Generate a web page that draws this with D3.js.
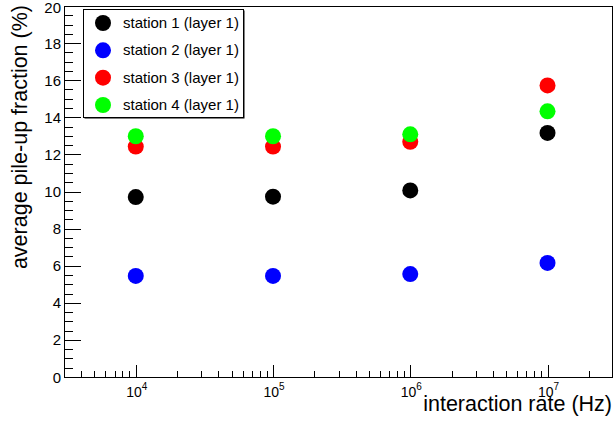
<!DOCTYPE html>
<html>
<head>
<meta charset="utf-8">
<script src="https://cdn.jsdelivr.net/npm/d3@7"></script>
<style>
  body { margin: 0; background: #fff; }
  text { font-family: "Liberation Sans", Arial, Helvetica, sans-serif; }
</style>
</head>
<body>
<div class="chart"></div>
<script>

// interaction rate (Hz)
var rates = [1e4, 1e5, 1e6, 1e7];

// average pile-up fraction (%) per station
var station1 = [9.70, 9.72, 10.06, 13.16];
var station2 = [5.45, 5.45, 5.55, 6.15];
var station3 = [12.42, 12.42, 12.68, 15.72];
var station4 = [12.98, 12.98, 13.08, 14.32];

var seriesNames = ["station 1 (layer 1)", "station 2 (layer 1)", "station 3 (layer 1)", "station 4 (layer 1)"];
var seriesColors = ["#000000", "#0000ff", "#ff0000", "#00ff00"];
var seriesValues = [station1, station2, station3, station4];

var yTicks = [0, 2, 4, 6, 8, 10, 12, 14, 16, 18, 20];
var xMajor = [1e4, 1e5, 1e6, 1e7];

var div_width = 614;
var div_height = 421;

var svg = d3.select(".chart").append("svg")
    .attr("width", div_width)
    .attr("height", div_height);

var x = d3.scaleLog().domain([3e3, 3e7]).range([64, 613]);
var y = d3.scaleLinear().domain([0, 20]).range([377, 6]);

// minor x ticks: 2..9 x 10^k inside the range
var xMinor = [];
for (var k = 3; k <= 7; k++) {
    for (var m = 2; m <= 9; m++) {
        var v = m * Math.pow(10, k);
        if (v > 3e3 && v < 3e7) xMinor.push(v);
    }
}
var yMinor = d3.range(0.5, 20, 0.5).filter(function (d) { return d % 2 != 0; });

var g = svg.append("g");

// frame
g.append("rect")
    .attr("x", x.range()[0] + 0.5)
    .attr("y", y.range()[1] + 0.5)
    .attr("width", x.range()[1] - x.range()[0] - 1)
    .attr("height", y.range()[0] - y.range()[1])
    .attr("fill", "none")
    .attr("stroke", "#000")
    .attr("stroke-width", 1);

// x ticks
g.selectAll(".xminor").data(xMinor).enter().append("line")
    .attr("x1", function (d) { return Math.round(x(d)) + 0.5; })
    .attr("x2", function (d) { return Math.round(x(d)) + 0.5; })
    .attr("y1", 377).attr("y2", 371)
    .attr("stroke", "#000");
g.selectAll(".xmajor").data(xMajor).enter().append("line")
    .attr("x1", function (d) { return Math.round(x(d)) + 0.5; })
    .attr("x2", function (d) { return Math.round(x(d)) + 0.5; })
    .attr("y1", 377).attr("y2", 365)
    .attr("stroke", "#000");

// x tick labels 10^n
var xl = g.selectAll(".xlab").data(xMajor).enter().append("text")
    .attr("x", function (d) { return x(d) + 1; })
    .attr("y", 397)
    .attr("text-anchor", "middle")
    .style("font-size", "14px")
    .attr("fill", "#000");
xl.append("tspan").text("10");
xl.append("tspan")
    .attr("dy", -7)
    .style("font-size", "10px")
    .text(function (d) { return Math.round(Math.log10(d)); });

// y ticks
g.selectAll(".yminor").data(yMinor).enter().append("line")
    .attr("x1", 64).attr("x2", 73)
    .attr("y1", function (d) { return Math.round(y(d)) + 0.5; })
    .attr("y2", function (d) { return Math.round(y(d)) + 0.5; })
    .attr("stroke", "#000");
g.selectAll(".ymajor").data(yTicks).enter().append("line")
    .attr("x1", 64).attr("x2", 81)
    .attr("y1", function (d) { return Math.round(y(d)) + 0.5; })
    .attr("y2", function (d) { return Math.round(y(d)) + 0.5; })
    .attr("stroke", "#000");

// top label is pushed down so it stays inside the page
g.selectAll(".ylab").data(yTicks).enter().append("text")
    .attr("x", 61)
    .attr("y", function (d) { return Math.max(y(d) + 5.5, 13); })
    .attr("text-anchor", "end")
    .style("font-size", "15px")
    .attr("fill", "#000")
    .text(function (d) { return d; });

// axis titles
g.append("text")
    .attr("x", 612)
    .attr("y", 411)
    .attr("text-anchor", "end")
    .style("font-size", "21.5px")
    .text("interaction rate (Hz)");

g.append("text")
    .attr("transform", "translate(27,5) rotate(-90)")
    .attr("text-anchor", "end")
    .style("font-size", "21.5px")
    .text("average pile-up fraction (%)");

// markers
for (var i = 0; i < seriesValues.length; i++) {
    g.selectAll(".s" + i).data(seriesValues[i]).enter().append("circle")
        .attr("cx", function (d, j) { return x(rates[j]); })
        .attr("cy", function (d) { return y(d); })
        .attr("r", 8)
        .attr("fill", seriesColors[i]);
}

// legend
var lg = svg.append("g");
lg.append("rect")
    .attr("x", 84.5).attr("y", 10.5)
    .attr("width", 160).attr("height", 108)
    .attr("fill", "#000");
lg.append("rect")
    .attr("x", 83.5).attr("y", 9.5)
    .attr("width", 160).attr("height", 108)
    .attr("fill", "#fff")
    .attr("stroke", "#000");

var legendY = d3.scalePoint().domain(seriesNames).range([23, 105]);
var items = lg.selectAll(".item").data(seriesNames).enter().append("g");
items.append("circle")
    .attr("cx", 103)
    .attr("cy", function (d) { return legendY(d); })
    .attr("r", 8)
    .attr("fill", function (d, i) { return seriesColors[i]; });
items.append("text")
    .attr("x", 123)
    .attr("y", function (d) { return legendY(d) + 5; })
    .style("font-size", "15px")
    .text(function (d) { return d; });

</script>
</body>
</html>
